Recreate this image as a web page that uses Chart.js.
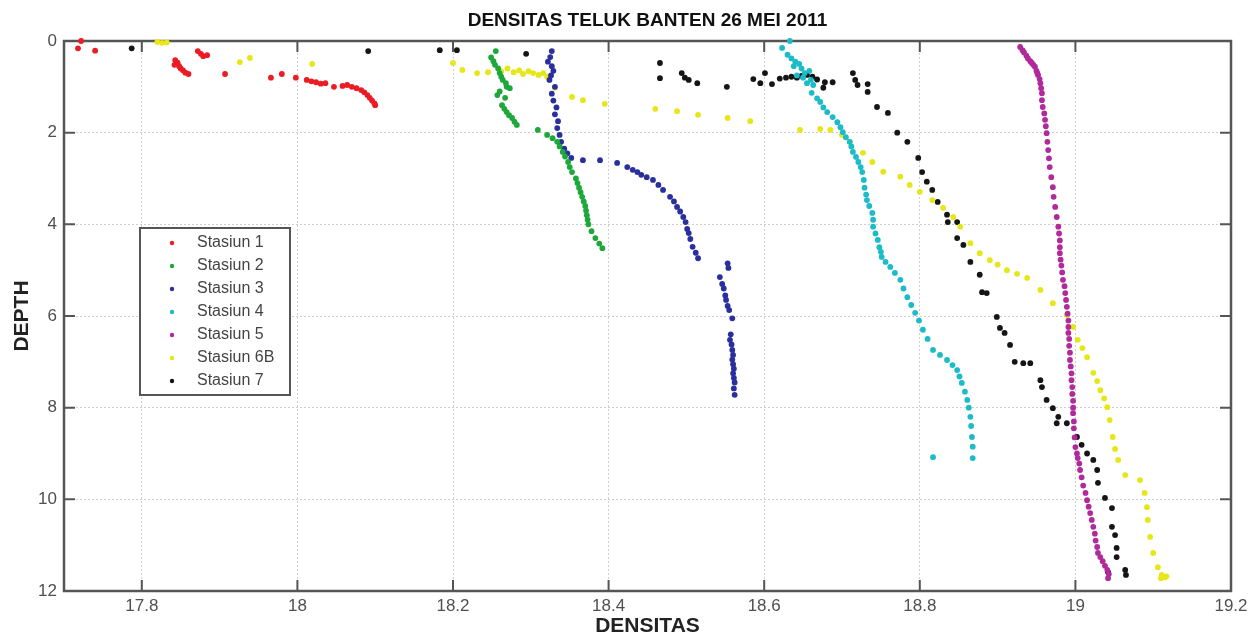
<!DOCTYPE html>
<html>
<head>
<meta charset="utf-8">
<title>Densitas Teluk Banten</title>
<script src="https://cdn.jsdelivr.net/npm/chart.js@4.4.1/dist/chart.umd.min.js"></script>
<style>
  html, body { margin: 0; padding: 0; background: #fff; }
  canvas { display: block; }
</style>
</head>
<body>
<canvas id="densitas" width="1260" height="638"></canvas>
<script>
// data: [densitas, depth]
var stasiun1 = [[17.722,0.0],[17.718,0.16],[17.74,0.21],[17.843,0.42],[17.846,0.47],[17.842,0.52],[17.848,0.55],[17.85,0.6],[17.853,0.64],[17.856,0.69],[17.86,0.72],[17.872,0.22],[17.876,0.28],[17.879,0.33],[17.884,0.31],[17.907,0.72],[17.966,0.8],[17.98,0.72],[17.998,0.8],[18.012,0.85],[18.018,0.88],[18.024,0.9],[18.03,0.93],[18.036,0.92],[18.047,1.0],[18.058,0.98],[18.064,0.96],[18.07,1.0],[18.076,1.03],[18.082,1.07],[18.086,1.12],[18.09,1.18],[18.093,1.24],[18.096,1.3],[18.099,1.36],[18.1,1.4]];
var stasiun2 = [[18.255,0.22],[18.249,0.36],[18.252,0.44],[18.254,0.52],[18.258,0.6],[18.26,0.7],[18.262,0.78],[18.264,0.85],[18.268,0.92],[18.269,1.0],[18.273,1.03],[18.26,1.1],[18.257,1.18],[18.267,1.24],[18.263,1.4],[18.266,1.48],[18.269,1.55],[18.272,1.62],[18.276,1.68],[18.279,1.76],[18.282,1.83],[18.309,1.94],[18.321,2.05],[18.328,2.12],[18.334,2.2],[18.337,2.3],[18.341,2.42],[18.344,2.52],[18.348,2.64],[18.35,2.75],[18.353,2.86],[18.358,3.0],[18.36,3.1],[18.362,3.2],[18.364,3.3],[18.366,3.4],[18.368,3.5],[18.37,3.6],[18.371,3.7],[18.372,3.8],[18.373,3.9],[18.374,4.0],[18.378,4.15],[18.383,4.3],[18.388,4.42],[18.392,4.52]];
var stasiun3 = [[18.327,0.22],[18.325,0.35],[18.322,0.45],[18.327,0.55],[18.329,0.65],[18.326,0.75],[18.324,0.85],[18.331,1.0],[18.327,1.15],[18.329,1.3],[18.333,1.45],[18.331,1.6],[18.335,1.75],[18.334,1.9],[18.337,2.05],[18.339,2.2],[18.343,2.35],[18.347,2.45],[18.352,2.55],[18.367,2.6],[18.389,2.6],[18.411,2.66],[18.424,2.75],[18.431,2.81],[18.437,2.86],[18.442,2.92],[18.449,2.97],[18.457,3.03],[18.464,3.14],[18.47,3.25],[18.479,3.4],[18.484,3.5],[18.488,3.62],[18.492,3.72],[18.496,3.84],[18.499,3.95],[18.501,4.1],[18.503,4.19],[18.505,4.32],[18.508,4.49],[18.512,4.62],[18.515,4.74],[18.553,4.85],[18.554,4.95],[18.543,5.15],[18.546,5.3],[18.548,5.4],[18.55,5.55],[18.551,5.65],[18.553,5.78],[18.555,5.87],[18.559,6.05],[18.557,6.4],[18.556,6.52],[18.558,6.62],[18.559,6.74],[18.56,6.85],[18.559,6.95],[18.56,7.05],[18.561,7.15],[18.56,7.25],[18.561,7.35],[18.562,7.45],[18.561,7.58],[18.562,7.72]];
var stasiun4 = [[18.633,0.0],[18.623,0.15],[18.63,0.3],[18.635,0.38],[18.64,0.45],[18.645,0.5],[18.638,0.55],[18.648,0.6],[18.652,0.7],[18.658,0.65],[18.642,0.75],[18.65,0.8],[18.66,0.85],[18.655,0.92],[18.663,0.96],[18.661,1.13],[18.668,1.25],[18.672,1.33],[18.676,1.45],[18.681,1.55],[18.688,1.66],[18.694,1.77],[18.698,1.88],[18.701,1.99],[18.705,2.1],[18.71,2.2],[18.712,2.3],[18.714,2.42],[18.718,2.53],[18.721,2.64],[18.724,2.75],[18.726,2.86],[18.728,3.03],[18.729,3.2],[18.731,3.35],[18.732,3.47],[18.735,3.6],[18.739,3.75],[18.74,3.9],[18.74,4.05],[18.743,4.2],[18.746,4.34],[18.748,4.5],[18.75,4.6],[18.751,4.71],[18.756,4.82],[18.762,4.93],[18.768,5.06],[18.775,5.21],[18.779,5.4],[18.784,5.59],[18.789,5.76],[18.794,5.93],[18.799,6.1],[18.804,6.3],[18.81,6.5],[18.817,6.74],[18.826,6.85],[18.835,6.96],[18.842,7.07],[18.848,7.18],[18.851,7.32],[18.854,7.46],[18.858,7.65],[18.861,7.83],[18.863,8.0],[18.865,8.2],[18.866,8.4],[18.867,8.64],[18.868,8.85],[18.868,9.1],[18.817,9.08]];
var stasiun5 = [[18.929,0.13],[18.932,0.2],[18.934,0.25],[18.937,0.32],[18.939,0.38],[18.942,0.44],[18.944,0.48],[18.946,0.52],[18.948,0.56],[18.95,0.65],[18.951,0.7],[18.952,0.74],[18.954,0.83],[18.955,0.92],[18.956,1.03],[18.957,1.14],[18.957,1.29],[18.958,1.44],[18.96,1.58],[18.961,1.72],[18.962,1.86],[18.963,2.01],[18.964,2.2],[18.965,2.38],[18.966,2.56],[18.967,2.75],[18.969,2.97],[18.971,3.19],[18.972,3.4],[18.974,3.62],[18.976,3.84],[18.978,4.05],[18.979,4.2],[18.98,4.35],[18.98,4.5],[18.98,4.63],[18.981,4.77],[18.982,4.9],[18.983,5.05],[18.984,5.21],[18.986,5.35],[18.987,5.5],[18.988,5.65],[18.989,5.8],[18.99,5.95],[18.991,6.1],[18.991,6.24],[18.991,6.37],[18.992,6.5],[18.992,6.65],[18.993,6.8],[18.993,6.96],[18.994,7.1],[18.995,7.25],[18.995,7.4],[18.996,7.55],[18.996,7.7],[18.997,7.85],[18.997,8.0],[18.997,8.12],[18.998,8.3],[18.998,8.45],[18.999,8.65],[19.0,8.86],[19.002,9.0],[19.003,9.1],[19.005,9.22],[19.006,9.36],[19.008,9.52],[19.01,9.7],[19.013,9.86],[19.015,10.02],[19.017,10.16],[19.019,10.3],[19.021,10.45],[19.023,10.6],[19.025,10.75],[19.026,10.9],[19.028,11.04],[19.029,11.17],[19.032,11.26],[19.035,11.35],[19.038,11.45],[19.041,11.54],[19.043,11.63],[19.042,11.72]];
var stasiun6B = [[17.82,0.02],[17.826,0.04],[17.832,0.03],[17.926,0.46],[17.939,0.37],[18.019,0.5],[18.2,0.48],[18.212,0.63],[18.231,0.7],[18.245,0.68],[18.262,0.66],[18.27,0.6],[18.278,0.68],[18.285,0.64],[18.29,0.72],[18.297,0.66],[18.303,0.7],[18.31,0.74],[18.316,0.7],[18.321,0.78],[18.331,1.02],[18.353,1.22],[18.367,1.29],[18.395,1.37],[18.46,1.48],[18.488,1.53],[18.515,1.61],[18.553,1.68],[18.582,1.75],[18.646,1.94],[18.672,1.92],[18.685,1.94],[18.7,2.05],[18.71,2.2],[18.727,2.44],[18.739,2.64],[18.753,2.85],[18.775,2.96],[18.787,3.14],[18.8,3.29],[18.816,3.47],[18.83,3.64],[18.843,3.84],[18.852,4.05],[18.865,4.41],[18.877,4.63],[18.89,4.78],[18.9,4.88],[18.912,5.0],[18.925,5.08],[18.938,5.17],[18.955,5.43],[18.971,5.72],[18.989,5.98],[18.997,6.24],[19.003,6.52],[19.009,6.7],[19.015,6.9],[19.023,7.24],[19.028,7.42],[19.032,7.62],[19.037,7.8],[19.041,7.99],[19.044,8.27],[19.048,8.64],[19.051,8.9],[19.055,9.14],[19.064,9.47],[19.083,9.58],[19.089,9.86],[19.092,10.17],[19.093,10.45],[19.096,10.82],[19.1,11.17],[19.106,11.48],[19.111,11.65],[19.115,11.7],[19.11,11.72],[19.117,11.68]];
var stasiun7 = [[17.787,0.16],[18.091,0.22],[18.183,0.2],[18.205,0.2],[18.294,0.28],[18.466,0.48],[18.466,0.81],[18.494,0.7],[18.498,0.8],[18.503,0.85],[18.514,0.92],[18.552,1.0],[18.586,0.83],[18.601,0.7],[18.595,0.92],[18.61,0.94],[18.62,0.82],[18.628,0.8],[18.635,0.78],[18.642,0.8],[18.648,0.76],[18.655,0.74],[18.662,0.78],[18.668,0.84],[18.678,0.9],[18.688,0.9],[18.676,1.02],[18.714,0.7],[18.717,0.85],[18.72,0.96],[18.733,0.94],[18.733,1.11],[18.745,1.44],[18.759,1.57],[18.771,2.0],[18.784,2.2],[18.798,2.55],[18.803,2.86],[18.809,3.07],[18.816,3.25],[18.823,3.51],[18.835,3.79],[18.836,3.95],[18.848,3.95],[18.848,4.3],[18.856,4.45],[18.865,4.82],[18.877,5.1],[18.88,5.48],[18.886,5.5],[18.899,6.02],[18.903,6.26],[18.909,6.37],[18.916,6.63],[18.922,7.0],[18.933,7.03],[18.942,7.03],[18.955,7.4],[18.957,7.55],[18.963,7.83],[18.971,8.01],[18.978,8.2],[18.976,8.34],[18.989,8.34],[19.002,8.64],[19.008,8.81],[19.015,9.0],[19.023,9.14],[19.028,9.36],[19.029,9.64],[19.038,9.97],[19.047,10.19],[19.047,10.6],[19.051,10.78],[19.053,11.06],[19.053,11.26],[19.042,11.59],[19.064,11.54],[19.065,11.65]];

var stationNames = ['Stasiun 1', 'Stasiun 2', 'Stasiun 3', 'Stasiun 4', 'Stasiun 5', 'Stasiun 6B', 'Stasiun 7'];
var stationData = [stasiun1, stasiun2, stasiun3, stasiun4, stasiun5, stasiun6B, stasiun7];
var stationColors = ['#ec1c24', '#1ea83a', '#2a2f9e', '#1bbcc8', '#b02a9c', '#e6e619', '#151515'];

var xTicks = [17.8, 18, 18.2, 18.4, 18.6, 18.8, 19, 19.2];
var yTicks = [0, 2, 4, 6, 8, 10, 12];

var chartTitle = 'DENSITAS TELUK BANTEN 26 MEI 2011';
var FONT = "'Liberation Sans', Arial, sans-serif";

// matlab style box: frame + inward ticks on all 4 sides
var boxPlugin = {
  id: 'matlabBox',
  beforeDatasetsDraw: function(chart) {
    var ctx = chart.ctx, a = chart.chartArea;
    var sx = chart.scales.x, sy = chart.scales.y;
    ctx.save();
    ctx.strokeStyle = '#555';
    ctx.lineWidth = 2;
    ctx.beginPath();
    xTicks.forEach(function(v) {
      var px = sx.getPixelForValue(v);
      ctx.moveTo(px, a.bottom); ctx.lineTo(px, a.bottom - 11);
      ctx.moveTo(px, a.top); ctx.lineTo(px, a.top + 11);
    });
    yTicks.forEach(function(v) {
      var py = sy.getPixelForValue(v);
      ctx.moveTo(a.left, py); ctx.lineTo(a.left + 11, py);
      ctx.moveTo(a.right, py); ctx.lineTo(a.right - 11, py);
    });
    ctx.stroke();
    ctx.lineWidth = 2.5;
    ctx.strokeRect(a.left, a.top, a.right - a.left, a.bottom - a.top);
    ctx.restore();
  },
  afterDatasetsDraw: function(chart) {
    var ctx = chart.ctx, a = chart.chartArea;
    ctx.save();
    // legend box
    var bx = 140, by = 228, bw = 150, bh = 167;
    ctx.fillStyle = '#fff';
    ctx.fillRect(bx, by, bw, bh);
    ctx.strokeStyle = '#555';
    ctx.lineWidth = 2;
    ctx.strokeRect(bx, by, bw, bh);
    ctx.font = '16px ' + FONT;
    ctx.textBaseline = 'middle';
    stationNames.forEach(function(name, i) {
      var y = by + 15 + i * 23;
      ctx.fillStyle = stationColors[i];
      ctx.beginPath();
      ctx.arc(bx + 32, y, 2.2, 0, Math.PI * 2);
      ctx.fill();
      ctx.fillStyle = '#444';
      ctx.fillText(name, bx + 57, y);
    });
    // title
    ctx.fillStyle = '#111';
    ctx.font = 'bold 19px ' + FONT;
    ctx.textAlign = 'center';
    ctx.textBaseline = 'middle';
    ctx.fillText(chartTitle, (a.left + a.right) / 2, 21);
    ctx.restore();
  }
};

var datasets = stationData.map(function(pts, i) {
  return {
    label: stationNames[i],
    data: pts.map(function(p) { return { x: p[0], y: p[1] }; }),
    backgroundColor: stationColors[i],
    borderWidth: 0,
    pointRadius: 2.9,
    clip: false
  };
});

new Chart(document.getElementById('densitas'), {
  type: 'scatter',
  data: { datasets: datasets },
  options: {
    responsive: false,
    animation: false,
    events: [],
    layout: { padding: { top: 41, right: 29, left: 0, bottom: 0 } },
    plugins: {
      legend: { display: false },
      tooltip: { enabled: false },
      title: { display: false }
    },
    scales: {
      x: {
        type: 'linear',
        min: 17.7,
        max: 19.2,
        afterBuildTicks: function(s) { s.ticks = xTicks.map(function(v) { return { value: v }; }); },
        afterFit: function(s) { s.height = 47; },
        grid: { color: '#cfcfcf', lineWidth: 1, drawTicks: false },
        border: { display: false, dash: [2, 2] },
        ticks: {
          padding: 5,
          color: '#505050',
          font: { family: FONT, size: 17 },
          maxRotation: 0,
          callback: function(v) { return String(v); }
        },
        title: {
          display: true,
          text: 'DENSITAS',
          color: '#222',
          font: { family: FONT, size: 21, weight: 'bold', lineHeight: 1 },
          padding: { top: 0, bottom: 1 }
        }
      },
      y: {
        type: 'linear',
        min: 0,
        max: 12,
        reverse: true,
        afterBuildTicks: function(s) { s.ticks = yTicks.map(function(v) { return { value: v }; }); },
        afterFit: function(s) { s.width = 64; },
        grid: { color: '#cfcfcf', lineWidth: 1, drawTicks: false },
        border: { display: false, dash: [2, 2] },
        ticks: {
          padding: 7,
          color: '#505050',
          font: { family: FONT, size: 17 }
        },
        title: {
          display: true,
          text: 'DEPTH',
          color: '#222',
          font: { family: FONT, size: 21, weight: 'bold' },
          padding: { top: 10, bottom: 0 }
        }
      }
    }
  },
  plugins: [boxPlugin]
});
</script>
</body>
</html>
